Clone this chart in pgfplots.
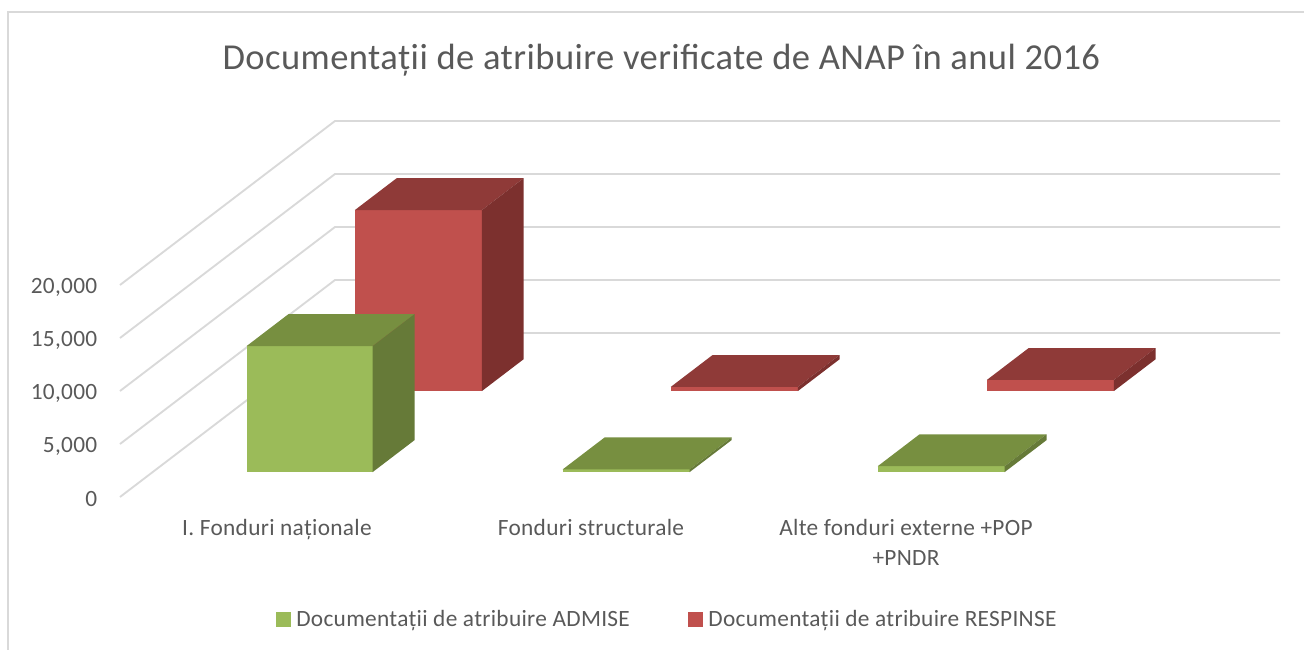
\documentclass[border=0pt]{standalone}
\usepackage{pgfplots}
\pgfplotsset{compat=1.18}
\usepackage{fontspec}
\setmainfont{Carlito}[LetterSpace=1.3]
\newfontfamily\titlefont{Carlito}[LetterSpace=1.2]
\definecolor{txt}{HTML}{595959}
\definecolor{gridc}{HTML}{D9D9D9}
\definecolor{gF}{HTML}{9BBB59}
\definecolor{gT}{HTML}{778F40}
\definecolor{gS}{HTML}{667A38}
\definecolor{rF}{HTML}{C0504D}
\definecolor{rT}{HTML}{8F3A38}
\definecolor{rS}{HTML}{7C302E}
% 1 px = 0.75 pt
% \barbox{x left}{x right}{depth front}{depth back}{value}{front}{top}{side}
\newcommand{\barbox}[8]{%
  \addplot3[forget plot,draw=none,fill=#6,mark=none] coordinates {(#1,#3,0)(#2,#3,0)(#2,#3,#5)(#1,#3,#5)} --cycle;
  \addplot3[forget plot,draw=none,fill=#7,mark=none] coordinates {(#1,#3,#5)(#2,#3,#5)(#2,#4,#5)(#1,#4,#5)} --cycle;
  \addplot3[forget plot,draw=none,fill=#8,mark=none] coordinates {(#2,#3,0)(#2,#4,0)(#2,#4,#5)(#2,#3,#5)} --cycle;
}
\newcommand{\gridz}[1]{%
  \addplot3[forget plot,gridc,line width=1.4pt,mark=none] coordinates {(0,0,#1)(0,1,#1)(945,1,#1)};
}
\begin{document}
\begin{tikzpicture}
\begin{axis}[
  x={(0.75pt,0pt)}, y={(161.25pt,123pt)}, z={(0pt,0.00795pt)},
  xmin=0, xmax=945, ymin=0, ymax=1, zmin=0, zmax=20000,
  clip=false,
  axis line style={draw=none},
  major tick style={draw=none},
  minor tick style={draw=none},
  xtick={157,471,786},
  xticklabels={I. Fonduri naționale,Fonduri structurale,{Alte fonduri externe +POP\\+PNDR}},
  xticklabel style={align=center,font=\fontsize{17.5pt}{23pt}\selectfont,text=txt,anchor=north,yshift=-13pt},
  ytick=\empty,
  ztick={0,5000,10000,15000,20000},
  scaled z ticks=false,
  zticklabel style={font=\fontsize{17.5pt}{19pt}\selectfont,text=txt,anchor=east,xshift=-13.5pt,yshift=-1.5pt,
    /pgf/number format/assume math mode=true,/pgf/number format/fixed,/pgf/number format/1000 sep={,}},
  legend columns=2,
  legend style={draw=none,fill=none,font=\fontsize{17.5pt}{19pt}\selectfont,text=txt,
    at={(axis cs:547.5,0,-11550)},anchor=center,
    /tikz/every even column/.append style={column sep=41.5pt},
    /tikz/every odd column/.append style={column sep=2.5pt}},
]
\gridz{0}\gridz{5000}\gridz{10000}\gridz{15000}\gridz{20000}
\addlegendimage{legend image code/.code={\fill[gF] (0pt,-5.25pt) rectangle (10.5pt,5.25pt);}}
\addlegendentry{Documentații de atribuire ADMISE}
\addlegendimage{legend image code/.code={\fill[rF] (0pt,-5.25pt) rectangle (10.5pt,5.25pt);}}
\addlegendentry{Documentații de atribuire RESPINSE}
\barbox{96}{223}{0.646}{0.84}{17075}{rF}{rT}{rS}
\barbox{94}{220}{0.152}{0.347}{11890}{gF}{gT}{gS}
\barbox{412}{539}{0.646}{0.84}{400}{rF}{rT}{rS}
\barbox{410}{537}{0.152}{0.347}{250}{gF}{gT}{gS}
\barbox{728}{855}{0.646}{0.84}{1050}{rF}{rT}{rS}
\barbox{725}{852}{0.152}{0.347}{550}{gF}{gT}{gS}
\coordinate (o) at (axis cs:0,0,0);
\end{axis}
\pgfresetboundingbox
\useasboundingbox (o) ++(-90pt,-114.75pt) rectangle ++(978pt,487.5pt);
\draw[gridc,line width=1.4pt] (o) ++(-84pt,-114.75pt) -- ++(0pt,478.5pt) -- ++(972pt,0pt);
\node[text=txt,font=\titlefont\fontsize{27.4pt}{30pt}\selectfont,anchor=center] at ([shift={(406pt,328pt)}]o) {Documentații de atribuire verificate de ANAP în anul 2016};
\end{tikzpicture}
\end{document}
